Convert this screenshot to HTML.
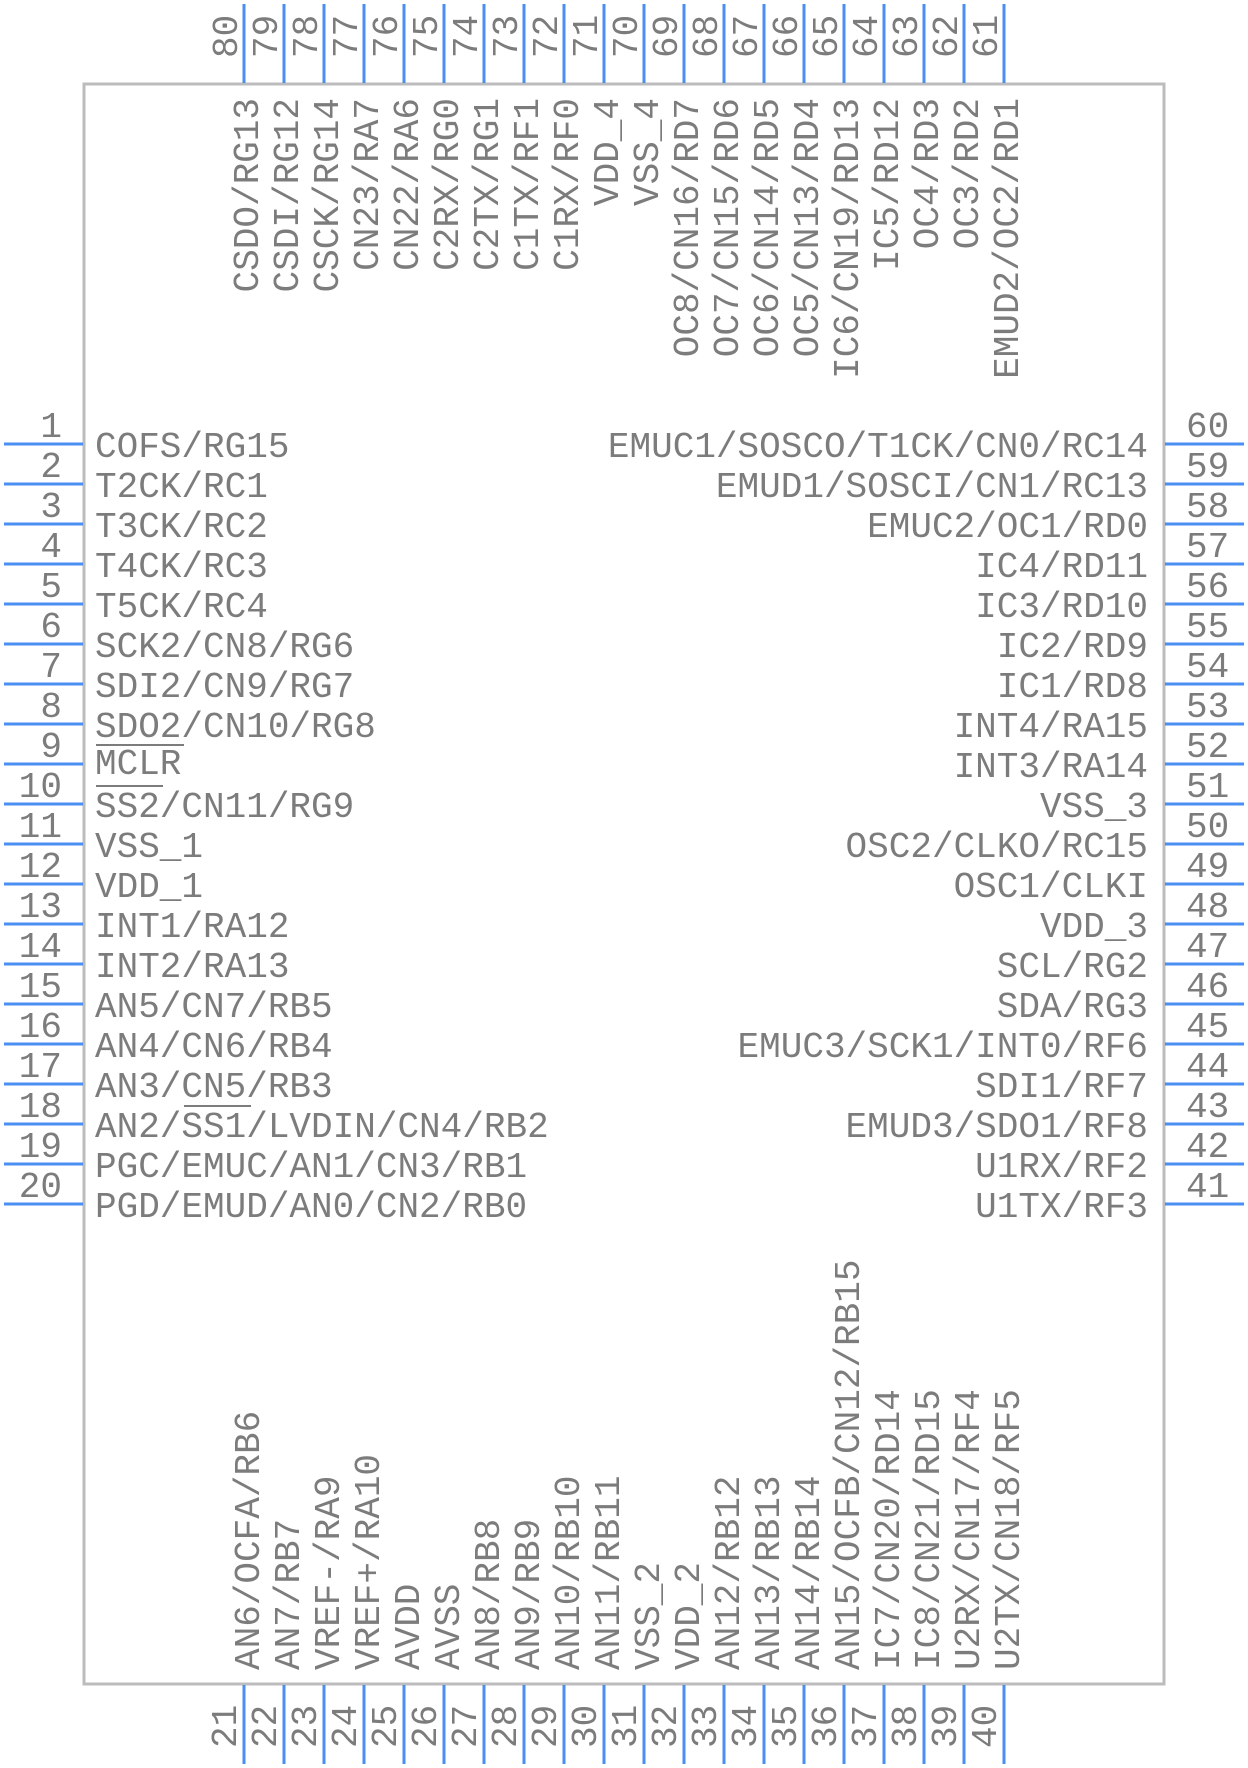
<!DOCTYPE html>
<html><head><meta charset="utf-8"><style>
html,body{margin:0;padding:0;background:#fff;}
svg{display:block}
text{font-family:"Liberation Mono",monospace;font-size:36px;fill:#7c7c7c;}
</style></head><body>
<svg width="1248" height="1768" viewBox="0 0 1248 1768" xmlns="http://www.w3.org/2000/svg">
<rect x="84" y="84" width="1080" height="1600" fill="none" stroke="#bcbcbc" stroke-width="3"/>
<g stroke="#4a8ef0" stroke-width="3">
<line x1="4" y1="444" x2="83" y2="444"/><line x1="4" y1="484" x2="83" y2="484"/><line x1="4" y1="524" x2="83" y2="524"/><line x1="4" y1="564" x2="83" y2="564"/><line x1="4" y1="604" x2="83" y2="604"/><line x1="4" y1="644" x2="83" y2="644"/><line x1="4" y1="684" x2="83" y2="684"/><line x1="4" y1="724" x2="83" y2="724"/><line x1="4" y1="764" x2="83" y2="764"/><line x1="4" y1="804" x2="83" y2="804"/><line x1="4" y1="844" x2="83" y2="844"/><line x1="4" y1="884" x2="83" y2="884"/><line x1="4" y1="924" x2="83" y2="924"/><line x1="4" y1="964" x2="83" y2="964"/><line x1="4" y1="1004" x2="83" y2="1004"/><line x1="4" y1="1044" x2="83" y2="1044"/><line x1="4" y1="1084" x2="83" y2="1084"/><line x1="4" y1="1124" x2="83" y2="1124"/><line x1="4" y1="1164" x2="83" y2="1164"/><line x1="4" y1="1204" x2="83" y2="1204"/>
<line x1="1165" y1="444" x2="1244" y2="444"/><line x1="1165" y1="484" x2="1244" y2="484"/><line x1="1165" y1="524" x2="1244" y2="524"/><line x1="1165" y1="564" x2="1244" y2="564"/><line x1="1165" y1="604" x2="1244" y2="604"/><line x1="1165" y1="644" x2="1244" y2="644"/><line x1="1165" y1="684" x2="1244" y2="684"/><line x1="1165" y1="724" x2="1244" y2="724"/><line x1="1165" y1="764" x2="1244" y2="764"/><line x1="1165" y1="804" x2="1244" y2="804"/><line x1="1165" y1="844" x2="1244" y2="844"/><line x1="1165" y1="884" x2="1244" y2="884"/><line x1="1165" y1="924" x2="1244" y2="924"/><line x1="1165" y1="964" x2="1244" y2="964"/><line x1="1165" y1="1004" x2="1244" y2="1004"/><line x1="1165" y1="1044" x2="1244" y2="1044"/><line x1="1165" y1="1084" x2="1244" y2="1084"/><line x1="1165" y1="1124" x2="1244" y2="1124"/><line x1="1165" y1="1164" x2="1244" y2="1164"/><line x1="1165" y1="1204" x2="1244" y2="1204"/>
<line x1="244" y1="4" x2="244" y2="83"/><line x1="284" y1="4" x2="284" y2="83"/><line x1="324" y1="4" x2="324" y2="83"/><line x1="364" y1="4" x2="364" y2="83"/><line x1="404" y1="4" x2="404" y2="83"/><line x1="444" y1="4" x2="444" y2="83"/><line x1="484" y1="4" x2="484" y2="83"/><line x1="524" y1="4" x2="524" y2="83"/><line x1="564" y1="4" x2="564" y2="83"/><line x1="604" y1="4" x2="604" y2="83"/><line x1="644" y1="4" x2="644" y2="83"/><line x1="684" y1="4" x2="684" y2="83"/><line x1="724" y1="4" x2="724" y2="83"/><line x1="764" y1="4" x2="764" y2="83"/><line x1="804" y1="4" x2="804" y2="83"/><line x1="844" y1="4" x2="844" y2="83"/><line x1="884" y1="4" x2="884" y2="83"/><line x1="924" y1="4" x2="924" y2="83"/><line x1="964" y1="4" x2="964" y2="83"/><line x1="1004" y1="4" x2="1004" y2="83"/>
<line x1="244" y1="1685" x2="244" y2="1764"/><line x1="284" y1="1685" x2="284" y2="1764"/><line x1="324" y1="1685" x2="324" y2="1764"/><line x1="364" y1="1685" x2="364" y2="1764"/><line x1="404" y1="1685" x2="404" y2="1764"/><line x1="444" y1="1685" x2="444" y2="1764"/><line x1="484" y1="1685" x2="484" y2="1764"/><line x1="524" y1="1685" x2="524" y2="1764"/><line x1="564" y1="1685" x2="564" y2="1764"/><line x1="604" y1="1685" x2="604" y2="1764"/><line x1="644" y1="1685" x2="644" y2="1764"/><line x1="684" y1="1685" x2="684" y2="1764"/><line x1="724" y1="1685" x2="724" y2="1764"/><line x1="764" y1="1685" x2="764" y2="1764"/><line x1="804" y1="1685" x2="804" y2="1764"/><line x1="844" y1="1685" x2="844" y2="1764"/><line x1="884" y1="1685" x2="884" y2="1764"/><line x1="924" y1="1685" x2="924" y2="1764"/><line x1="964" y1="1685" x2="964" y2="1764"/><line x1="1004" y1="1685" x2="1004" y2="1764"/>
</g>

<g text-anchor="end">
<text x="62" y="437">1</text><text x="62" y="477">2</text><text x="62" y="517">3</text><text x="62" y="557">4</text><text x="62" y="597">5</text><text x="62" y="637">6</text><text x="62" y="677">7</text><text x="62" y="717">8</text><text x="62" y="757">9</text><text x="62" y="797">10</text><text x="62" y="837">11</text><text x="62" y="877">12</text><text x="62" y="917">13</text><text x="62" y="957">14</text><text x="62" y="997">15</text><text x="62" y="1037">16</text><text x="62" y="1077">17</text><text x="62" y="1117">18</text><text x="62" y="1157">19</text><text x="62" y="1197">20</text>
</g>
<g>
<text x="95" y="457">COFS/RG15</text><text x="95" y="497">T2CK/RC1</text><text x="95" y="537">T3CK/RC2</text><text x="95" y="577">T4CK/RC3</text><text x="95" y="617">T5CK/RC4</text><text x="95" y="657">SCK2/CN8/RG6</text><text x="95" y="697">SDI2/CN9/RG7</text><text x="95" y="737">SDO2/CN10/RG8</text><text x="95" y="774">MCLR</text><text x="95" y="817">SS2/CN11/RG9</text><text x="95" y="857">VSS_1</text><text x="95" y="897">VDD_1</text><text x="95" y="937">INT1/RA12</text><text x="95" y="977">INT2/RA13</text><text x="95" y="1017">AN5/CN7/RB5</text><text x="95" y="1057">AN4/CN6/RB4</text><text x="95" y="1097">AN3/CN5/RB3</text><text x="95" y="1137">AN2/SS1/LVDIN/CN4/RB2</text><text x="95" y="1177">PGC/EMUC/AN1/CN3/RB1</text><text x="95" y="1217">PGD/EMUD/AN0/CN2/RB0</text>
</g>
<g stroke="#7c7c7c" stroke-width="2">
<line x1="96" y1="745" x2="184" y2="745"/>
<line x1="96" y1="786" x2="163" y2="786"/>
<line x1="184" y1="1106" x2="251" y2="1106"/>
</g>
<g>
<text x="1186" y="437">60</text><text x="1186" y="477">59</text><text x="1186" y="517">58</text><text x="1186" y="557">57</text><text x="1186" y="597">56</text><text x="1186" y="637">55</text><text x="1186" y="677">54</text><text x="1186" y="717">53</text><text x="1186" y="757">52</text><text x="1186" y="797">51</text><text x="1186" y="837">50</text><text x="1186" y="877">49</text><text x="1186" y="917">48</text><text x="1186" y="957">47</text><text x="1186" y="997">46</text><text x="1186" y="1037">45</text><text x="1186" y="1077">44</text><text x="1186" y="1117">43</text><text x="1186" y="1157">42</text><text x="1186" y="1197">41</text>
</g>
<g text-anchor="end">
<text x="1148" y="457">EMUC1/SOSCO/T1CK/CN0/RC14</text><text x="1148" y="497">EMUD1/SOSCI/CN1/RC13</text><text x="1148" y="537">EMUC2/OC1/RD0</text><text x="1148" y="577">IC4/RD11</text><text x="1148" y="617">IC3/RD10</text><text x="1148" y="657">IC2/RD9</text><text x="1148" y="697">IC1/RD8</text><text x="1148" y="737">INT4/RA15</text><text x="1148" y="777">INT3/RA14</text><text x="1148" y="817">VSS_3</text><text x="1148" y="857">OSC2/CLKO/RC15</text><text x="1148" y="897">OSC1/CLKI</text><text x="1148" y="937">VDD_3</text><text x="1148" y="977">SCL/RG2</text><text x="1148" y="1017">SDA/RG3</text><text x="1148" y="1057">EMUC3/SCK1/INT0/RF6</text><text x="1148" y="1097">SDI1/RF7</text><text x="1148" y="1137">EMUD3/SDO1/RF8</text><text x="1148" y="1177">U1RX/RF2</text><text x="1148" y="1217">U1TX/RF3</text>
</g>
<g>
<text transform="translate(237,58) rotate(-90)">80</text><text transform="translate(277,58) rotate(-90)">79</text><text transform="translate(317,58) rotate(-90)">78</text><text transform="translate(357,58) rotate(-90)">77</text><text transform="translate(397,58) rotate(-90)">76</text><text transform="translate(437,58) rotate(-90)">75</text><text transform="translate(477,58) rotate(-90)">74</text><text transform="translate(517,58) rotate(-90)">73</text><text transform="translate(557,58) rotate(-90)">72</text><text transform="translate(597,58) rotate(-90)">71</text><text transform="translate(637,58) rotate(-90)">70</text><text transform="translate(677,58) rotate(-90)">69</text><text transform="translate(717,58) rotate(-90)">68</text><text transform="translate(757,58) rotate(-90)">67</text><text transform="translate(797,58) rotate(-90)">66</text><text transform="translate(837,58) rotate(-90)">65</text><text transform="translate(877,58) rotate(-90)">64</text><text transform="translate(917,58) rotate(-90)">63</text><text transform="translate(957,58) rotate(-90)">62</text><text transform="translate(997,58) rotate(-90)">61</text>
</g>
<g text-anchor="end">
<text transform="translate(258,98) rotate(-90)">CSDO/RG13</text><text transform="translate(298,98) rotate(-90)">CSDI/RG12</text><text transform="translate(338,98) rotate(-90)">CSCK/RG14</text><text transform="translate(378,98) rotate(-90)">CN23/RA7</text><text transform="translate(418,98) rotate(-90)">CN22/RA6</text><text transform="translate(458,98) rotate(-90)">C2RX/RG0</text><text transform="translate(498,98) rotate(-90)">C2TX/RG1</text><text transform="translate(538,98) rotate(-90)">C1TX/RF1</text><text transform="translate(578,98) rotate(-90)">C1RX/RF0</text><text transform="translate(618,98) rotate(-90)">VDD_4</text><text transform="translate(658,98) rotate(-90)">VSS_4</text><text transform="translate(698,98) rotate(-90)">OC8/CN16/RD7</text><text transform="translate(738,98) rotate(-90)">OC7/CN15/RD6</text><text transform="translate(778,98) rotate(-90)">OC6/CN14/RD5</text><text transform="translate(818,98) rotate(-90)">OC5/CN13/RD4</text><text transform="translate(858,98) rotate(-90)">IC6/CN19/RD13</text><text transform="translate(898,98) rotate(-90)">IC5/RD12</text><text transform="translate(938,98) rotate(-90)">OC4/RD3</text><text transform="translate(978,98) rotate(-90)">OC3/RD2</text><text transform="translate(1018,98) rotate(-90)">EMUD2/OC2/RD1</text>
</g>
<g>
<text transform="translate(236,1748) rotate(-90)">21</text><text transform="translate(276,1748) rotate(-90)">22</text><text transform="translate(316,1748) rotate(-90)">23</text><text transform="translate(356,1748) rotate(-90)">24</text><text transform="translate(396,1748) rotate(-90)">25</text><text transform="translate(436,1748) rotate(-90)">26</text><text transform="translate(476,1748) rotate(-90)">27</text><text transform="translate(516,1748) rotate(-90)">28</text><text transform="translate(556,1748) rotate(-90)">29</text><text transform="translate(596,1748) rotate(-90)">30</text><text transform="translate(636,1748) rotate(-90)">31</text><text transform="translate(676,1748) rotate(-90)">32</text><text transform="translate(716,1748) rotate(-90)">33</text><text transform="translate(756,1748) rotate(-90)">34</text><text transform="translate(796,1748) rotate(-90)">35</text><text transform="translate(836,1748) rotate(-90)">36</text><text transform="translate(876,1748) rotate(-90)">37</text><text transform="translate(916,1748) rotate(-90)">38</text><text transform="translate(956,1748) rotate(-90)">39</text><text transform="translate(996,1748) rotate(-90)">40</text>
</g>
<g>
<text transform="translate(259,1670) rotate(-90)">AN6/OCFA/RB6</text><text transform="translate(299,1670) rotate(-90)">AN7/RB7</text><text transform="translate(339,1670) rotate(-90)">VREF-/RA9</text><text transform="translate(379,1670) rotate(-90)">VREF+/RA10</text><text transform="translate(419,1670) rotate(-90)">AVDD</text><text transform="translate(459,1670) rotate(-90)">AVSS</text><text transform="translate(499,1670) rotate(-90)">AN8/RB8</text><text transform="translate(539,1670) rotate(-90)">AN9/RB9</text><text transform="translate(579,1670) rotate(-90)">AN10/RB10</text><text transform="translate(619,1670) rotate(-90)">AN11/RB11</text><text transform="translate(659,1670) rotate(-90)">VSS_2</text><text transform="translate(699,1670) rotate(-90)">VDD_2</text><text transform="translate(739,1670) rotate(-90)">AN12/RB12</text><text transform="translate(779,1670) rotate(-90)">AN13/RB13</text><text transform="translate(819,1670) rotate(-90)">AN14/RB14</text><text transform="translate(859,1670) rotate(-90)">AN15/OCFB/CN12/RB15</text><text transform="translate(899,1670) rotate(-90)">IC7/CN20/RD14</text><text transform="translate(939,1670) rotate(-90)">IC8/CN21/RD15</text><text transform="translate(979,1670) rotate(-90)">U2RX/CN17/RF4</text><text transform="translate(1019,1670) rotate(-90)">U2TX/CN18/RF5</text>
</g>
</svg>
</body></html>
